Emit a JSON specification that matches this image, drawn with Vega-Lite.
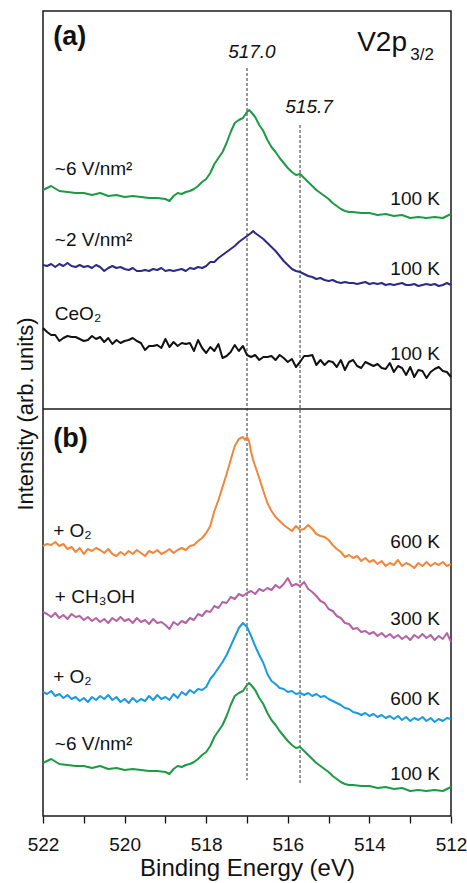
{
"$schema": "https://vega.github.io/schema/vega-lite/v6.json",
"width": 408,
"height": 805,
"autosize": {"type": "none"},
"padding": {"left": 43, "top": 11, "right": 16, "bottom": 67},
"background": "white",
"config": {
  "view": {"stroke": "#1a1a1a", "strokeWidth": 1.5},
  "font": "Liberation Sans",
  "axis": {"labelFont": "Liberation Sans", "titleFont": "Liberation Sans", "titleFontWeight": "normal", "labelColor": "#111", "titleColor": "#111"}
},
"datasets": {
"curves": [
{"s":"a6","e":522.0,"v":626},{"s":"a6","e":521.8,"v":630},{"s":"a6","e":521.6,"v":625},{"s":"a6","e":521.4,"v":624},{"s":"a6","e":521.2,"v":623},{"s":"a6","e":521.0,"v":623},{"s":"a6","e":520.8,"v":621},{"s":"a6","e":520.6,"v":623},{"s":"a6","e":520.4,"v":620},{"s":"a6","e":520.2,"v":621},{"s":"a6","e":520.0,"v":619},{"s":"a6","e":519.8,"v":620},{"s":"a6","e":519.6,"v":619},{"s":"a6","e":519.4,"v":618},{"s":"a6","e":519.2,"v":618},{"s":"a6","e":519.0,"v":617},{"s":"a6","e":518.9,"v":615},{"s":"a6","e":518.8,"v":620},{"s":"a6","e":518.7,"v":623},{"s":"a6","e":518.6,"v":622},{"s":"a6","e":518.5,"v":624},{"s":"a6","e":518.4,"v":625},{"s":"a6","e":518.3,"v":627},{"s":"a6","e":518.2,"v":630},{"s":"a6","e":518.1,"v":634},{"s":"a6","e":518.0,"v":637},{"s":"a6","e":517.9,"v":643},{"s":"a6","e":517.8,"v":652},{"s":"a6","e":517.7,"v":658},{"s":"a6","e":517.6,"v":664},{"s":"a6","e":517.5,"v":673},{"s":"a6","e":517.4,"v":684},{"s":"a6","e":517.3,"v":693},{"s":"a6","e":517.2,"v":696},{"s":"a6","e":517.1,"v":698},{"s":"a6","e":517.0,"v":704},{"s":"a6","e":516.95,"v":706},{"s":"a6","e":516.9,"v":704},{"s":"a6","e":516.8,"v":699},{"s":"a6","e":516.7,"v":691},{"s":"a6","e":516.6,"v":685},{"s":"a6","e":516.5,"v":676},{"s":"a6","e":516.4,"v":669},{"s":"a6","e":516.3,"v":664},{"s":"a6","e":516.2,"v":658},{"s":"a6","e":516.1,"v":653},{"s":"a6","e":516.0,"v":648},{"s":"a6","e":515.9,"v":644},{"s":"a6","e":515.8,"v":641},{"s":"a6","e":515.7,"v":642},{"s":"a6","e":515.6,"v":638},{"s":"a6","e":515.5,"v":634},{"s":"a6","e":515.4,"v":630},{"s":"a6","e":515.3,"v":626},{"s":"a6","e":515.2,"v":623},{"s":"a6","e":515.1,"v":620},{"s":"a6","e":515.0,"v":617},{"s":"a6","e":514.9,"v":613},{"s":"a6","e":514.8,"v":610},{"s":"a6","e":514.7,"v":607},{"s":"a6","e":514.6,"v":605},{"s":"a6","e":514.5,"v":604},{"s":"a6","e":514.4,"v":604},{"s":"a6","e":514.2,"v":603},{"s":"a6","e":514.0,"v":603},{"s":"a6","e":513.8,"v":601},{"s":"a6","e":513.6,"v":602},{"s":"a6","e":513.4,"v":600},{"s":"a6","e":513.2,"v":601},{"s":"a6","e":513.0,"v":598},{"s":"a6","e":512.8,"v":599},{"s":"a6","e":512.6,"v":598},{"s":"a6","e":512.4,"v":599},{"s":"a6","e":512.2,"v":598},{"s":"a6","e":512.0,"v":602},
{"s":"a2","e":522.0,"v":551},{"s":"a2","e":521.9,"v":550},{"s":"a2","e":521.8,"v":552},{"s":"a2","e":521.7,"v":549},{"s":"a2","e":521.6,"v":552},{"s":"a2","e":521.5,"v":550},{"s":"a2","e":521.4,"v":553},{"s":"a2","e":521.3,"v":550},{"s":"a2","e":521.2,"v":549},{"s":"a2","e":521.1,"v":551},{"s":"a2","e":521.0,"v":549},{"s":"a2","e":520.9,"v":550},{"s":"a2","e":520.8,"v":548},{"s":"a2","e":520.7,"v":551},{"s":"a2","e":520.6,"v":549},{"s":"a2","e":520.5,"v":545},{"s":"a2","e":520.4,"v":548},{"s":"a2","e":520.3,"v":550},{"s":"a2","e":520.2,"v":548},{"s":"a2","e":520.1,"v":549},{"s":"a2","e":520.0,"v":547},{"s":"a2","e":519.9,"v":546},{"s":"a2","e":519.8,"v":548},{"s":"a2","e":519.7,"v":545},{"s":"a2","e":519.6,"v":545},{"s":"a2","e":519.5,"v":546},{"s":"a2","e":519.4,"v":545},{"s":"a2","e":519.3,"v":547},{"s":"a2","e":519.2,"v":546},{"s":"a2","e":519.1,"v":548},{"s":"a2","e":519.0,"v":545},{"s":"a2","e":518.9,"v":546},{"s":"a2","e":518.8,"v":545},{"s":"a2","e":518.7,"v":546},{"s":"a2","e":518.6,"v":547},{"s":"a2","e":518.5,"v":545},{"s":"a2","e":518.4,"v":548},{"s":"a2","e":518.3,"v":547},{"s":"a2","e":518.2,"v":549},{"s":"a2","e":518.1,"v":548},{"s":"a2","e":518.0,"v":550},{"s":"a2","e":517.9,"v":554},{"s":"a2","e":517.8,"v":554},{"s":"a2","e":517.7,"v":558},{"s":"a2","e":517.6,"v":561},{"s":"a2","e":517.5,"v":564},{"s":"a2","e":517.4,"v":567},{"s":"a2","e":517.3,"v":570},{"s":"a2","e":517.2,"v":574},{"s":"a2","e":517.1,"v":577},{"s":"a2","e":517.0,"v":580},{"s":"a2","e":516.9,"v":583},{"s":"a2","e":516.85,"v":585},{"s":"a2","e":516.8,"v":583},{"s":"a2","e":516.7,"v":580},{"s":"a2","e":516.6,"v":577},{"s":"a2","e":516.5,"v":573},{"s":"a2","e":516.4,"v":569},{"s":"a2","e":516.3,"v":565},{"s":"a2","e":516.2,"v":560},{"s":"a2","e":516.1,"v":555},{"s":"a2","e":516.0,"v":551},{"s":"a2","e":515.9,"v":547},{"s":"a2","e":515.8,"v":545},{"s":"a2","e":515.7,"v":544},{"s":"a2","e":515.6,"v":542},{"s":"a2","e":515.5,"v":540},{"s":"a2","e":515.4,"v":539},{"s":"a2","e":515.3,"v":537},{"s":"a2","e":515.2,"v":538},{"s":"a2","e":515.1,"v":536},{"s":"a2","e":515.0,"v":535},{"s":"a2","e":514.9,"v":536},{"s":"a2","e":514.8,"v":534},{"s":"a2","e":514.7,"v":533},{"s":"a2","e":514.6,"v":534},{"s":"a2","e":514.5,"v":533},{"s":"a2","e":514.4,"v":533},{"s":"a2","e":514.3,"v":532},{"s":"a2","e":514.2,"v":533},{"s":"a2","e":514.1,"v":534},{"s":"a2","e":514.0,"v":532},{"s":"a2","e":513.9,"v":533},{"s":"a2","e":513.8,"v":532},{"s":"a2","e":513.7,"v":533},{"s":"a2","e":513.6,"v":531},{"s":"a2","e":513.5,"v":532},{"s":"a2","e":513.4,"v":531},{"s":"a2","e":513.3,"v":532},{"s":"a2","e":513.2,"v":533},{"s":"a2","e":513.1,"v":531},{"s":"a2","e":513.0,"v":531},{"s":"a2","e":512.9,"v":532},{"s":"a2","e":512.8,"v":530},{"s":"a2","e":512.7,"v":531},{"s":"a2","e":512.6,"v":532},{"s":"a2","e":512.5,"v":531},{"s":"a2","e":512.4,"v":532},{"s":"a2","e":512.3,"v":530},{"s":"a2","e":512.2,"v":531},{"s":"a2","e":512.1,"v":533},{"s":"a2","e":512.0,"v":531},
{"s":"ac","e":522.0,"v":488},{"s":"ac","e":521.9,"v":484},{"s":"ac","e":521.8,"v":481},{"s":"ac","e":521.7,"v":481},{"s":"ac","e":521.6,"v":475},{"s":"ac","e":521.5,"v":478},{"s":"ac","e":521.4,"v":480},{"s":"ac","e":521.3,"v":479},{"s":"ac","e":521.2,"v":479},{"s":"ac","e":521.1,"v":477},{"s":"ac","e":521.0,"v":475},{"s":"ac","e":520.9,"v":476},{"s":"ac","e":520.8,"v":480},{"s":"ac","e":520.7,"v":477},{"s":"ac","e":520.6,"v":479},{"s":"ac","e":520.5,"v":474},{"s":"ac","e":520.4,"v":478},{"s":"ac","e":520.3,"v":472},{"s":"ac","e":520.2,"v":476},{"s":"ac","e":520.1,"v":473},{"s":"ac","e":520.0,"v":475},{"s":"ac","e":519.9,"v":476},{"s":"ac","e":519.8,"v":478},{"s":"ac","e":519.7,"v":475},{"s":"ac","e":519.6,"v":473},{"s":"ac","e":519.5,"v":466},{"s":"ac","e":519.4,"v":470},{"s":"ac","e":519.3,"v":470},{"s":"ac","e":519.2,"v":471},{"s":"ac","e":519.1,"v":468},{"s":"ac","e":519.0,"v":477},{"s":"ac","e":518.9,"v":469},{"s":"ac","e":518.8,"v":474},{"s":"ac","e":518.7,"v":470},{"s":"ac","e":518.6,"v":473},{"s":"ac","e":518.5,"v":472},{"s":"ac","e":518.4,"v":473},{"s":"ac","e":518.3,"v":465},{"s":"ac","e":518.2,"v":476},{"s":"ac","e":518.1,"v":468},{"s":"ac","e":518.0,"v":463},{"s":"ac","e":517.9,"v":469},{"s":"ac","e":517.8,"v":465},{"s":"ac","e":517.7,"v":472},{"s":"ac","e":517.6,"v":458},{"s":"ac","e":517.5,"v":460},{"s":"ac","e":517.4,"v":464},{"s":"ac","e":517.3,"v":471},{"s":"ac","e":517.2,"v":465},{"s":"ac","e":517.1,"v":470},{"s":"ac","e":517.0,"v":461},{"s":"ac","e":516.9,"v":459},{"s":"ac","e":516.8,"v":461},{"s":"ac","e":516.7,"v":456},{"s":"ac","e":516.6,"v":459},{"s":"ac","e":516.5,"v":459},{"s":"ac","e":516.4,"v":460},{"s":"ac","e":516.3,"v":456},{"s":"ac","e":516.2,"v":461},{"s":"ac","e":516.1,"v":458},{"s":"ac","e":516.0,"v":454},{"s":"ac","e":515.9,"v":457},{"s":"ac","e":515.8,"v":449},{"s":"ac","e":515.7,"v":454},{"s":"ac","e":515.6,"v":460},{"s":"ac","e":515.5,"v":460},{"s":"ac","e":515.4,"v":461},{"s":"ac","e":515.3,"v":451},{"s":"ac","e":515.2,"v":456},{"s":"ac","e":515.1,"v":451},{"s":"ac","e":515.0,"v":455},{"s":"ac","e":514.9,"v":454},{"s":"ac","e":514.8,"v":449},{"s":"ac","e":514.7,"v":456},{"s":"ac","e":514.6,"v":446},{"s":"ac","e":514.5,"v":454},{"s":"ac","e":514.4,"v":456},{"s":"ac","e":514.3,"v":450},{"s":"ac","e":514.2,"v":448},{"s":"ac","e":514.1,"v":454},{"s":"ac","e":514.0,"v":452},{"s":"ac","e":513.9,"v":450},{"s":"ac","e":513.8,"v":452},{"s":"ac","e":513.7,"v":448},{"s":"ac","e":513.6,"v":447},{"s":"ac","e":513.5,"v":453},{"s":"ac","e":513.4,"v":444},{"s":"ac","e":513.3,"v":450},{"s":"ac","e":513.2,"v":448},{"s":"ac","e":513.1,"v":441},{"s":"ac","e":513.0,"v":449},{"s":"ac","e":512.9,"v":439},{"s":"ac","e":512.8,"v":446},{"s":"ac","e":512.7,"v":445},{"s":"ac","e":512.6,"v":438},{"s":"ac","e":512.5,"v":444},{"s":"ac","e":512.4,"v":447},{"s":"ac","e":512.3,"v":449},{"s":"ac","e":512.2,"v":445},{"s":"ac","e":512.1,"v":444},{"s":"ac","e":512.0,"v":439},
{"s":"bo","e":522.0,"v":270},{"s":"bo","e":521.9,"v":272},{"s":"bo","e":521.8,"v":271},{"s":"bo","e":521.7,"v":274},{"s":"bo","e":521.6,"v":270},{"s":"bo","e":521.5,"v":272},{"s":"bo","e":521.4,"v":267},{"s":"bo","e":521.3,"v":269},{"s":"bo","e":521.2,"v":264},{"s":"bo","e":521.1,"v":268},{"s":"bo","e":521.0,"v":262},{"s":"bo","e":520.9,"v":267},{"s":"bo","e":520.8,"v":265},{"s":"bo","e":520.7,"v":268},{"s":"bo","e":520.6,"v":266},{"s":"bo","e":520.5,"v":263},{"s":"bo","e":520.4,"v":267},{"s":"bo","e":520.3,"v":262},{"s":"bo","e":520.2,"v":260},{"s":"bo","e":520.1,"v":264},{"s":"bo","e":520.0,"v":261},{"s":"bo","e":519.9,"v":265},{"s":"bo","e":519.8,"v":262},{"s":"bo","e":519.7,"v":266},{"s":"bo","e":519.6,"v":263},{"s":"bo","e":519.5,"v":260},{"s":"bo","e":519.4,"v":265},{"s":"bo","e":519.3,"v":263},{"s":"bo","e":519.2,"v":266},{"s":"bo","e":519.1,"v":262},{"s":"bo","e":519.0,"v":264},{"s":"bo","e":518.9,"v":267},{"s":"bo","e":518.8,"v":263},{"s":"bo","e":518.7,"v":266},{"s":"bo","e":518.6,"v":268},{"s":"bo","e":518.5,"v":266},{"s":"bo","e":518.4,"v":270},{"s":"bo","e":518.3,"v":271},{"s":"bo","e":518.2,"v":275},{"s":"bo","e":518.1,"v":278},{"s":"bo","e":518.0,"v":283},{"s":"bo","e":517.9,"v":290},{"s":"bo","e":517.8,"v":305},{"s":"bo","e":517.7,"v":316},{"s":"bo","e":517.6,"v":329},{"s":"bo","e":517.5,"v":342},{"s":"bo","e":517.4,"v":356},{"s":"bo","e":517.3,"v":370},{"s":"bo","e":517.2,"v":377},{"s":"bo","e":517.1,"v":379},{"s":"bo","e":517.05,"v":376},{"s":"bo","e":517.0,"v":379},{"s":"bo","e":516.95,"v":375},{"s":"bo","e":516.9,"v":364},{"s":"bo","e":516.85,"v":356},{"s":"bo","e":516.8,"v":350},{"s":"bo","e":516.7,"v":338},{"s":"bo","e":516.6,"v":325},{"s":"bo","e":516.5,"v":313},{"s":"bo","e":516.4,"v":305},{"s":"bo","e":516.3,"v":299},{"s":"bo","e":516.2,"v":295},{"s":"bo","e":516.1,"v":291},{"s":"bo","e":516.0,"v":288},{"s":"bo","e":515.9,"v":285},{"s":"bo","e":515.8,"v":290},{"s":"bo","e":515.7,"v":286},{"s":"bo","e":515.6,"v":287},{"s":"bo","e":515.5,"v":291},{"s":"bo","e":515.4,"v":287},{"s":"bo","e":515.3,"v":282},{"s":"bo","e":515.2,"v":280},{"s":"bo","e":515.1,"v":279},{"s":"bo","e":515.0,"v":276},{"s":"bo","e":514.9,"v":271},{"s":"bo","e":514.8,"v":267},{"s":"bo","e":514.7,"v":264},{"s":"bo","e":514.6,"v":259},{"s":"bo","e":514.5,"v":261},{"s":"bo","e":514.4,"v":258},{"s":"bo","e":514.3,"v":260},{"s":"bo","e":514.2,"v":255},{"s":"bo","e":514.1,"v":258},{"s":"bo","e":514.0,"v":254},{"s":"bo","e":513.9,"v":256},{"s":"bo","e":513.8,"v":252},{"s":"bo","e":513.7,"v":255},{"s":"bo","e":513.6,"v":250},{"s":"bo","e":513.5,"v":253},{"s":"bo","e":513.4,"v":251},{"s":"bo","e":513.3,"v":256},{"s":"bo","e":513.2,"v":250},{"s":"bo","e":513.1,"v":253},{"s":"bo","e":513.0,"v":251},{"s":"bo","e":512.9,"v":248},{"s":"bo","e":512.8,"v":253},{"s":"bo","e":512.7,"v":250},{"s":"bo","e":512.6,"v":254},{"s":"bo","e":512.5,"v":250},{"s":"bo","e":512.4,"v":253},{"s":"bo","e":512.3,"v":251},{"s":"bo","e":512.2,"v":254},{"s":"bo","e":512.1,"v":250},{"s":"bo","e":512.0,"v":252},
{"s":"bm","e":522.0,"v":204},{"s":"bm","e":521.9,"v":202},{"s":"bm","e":521.8,"v":199},{"s":"bm","e":521.7,"v":203},{"s":"bm","e":521.6,"v":198},{"s":"bm","e":521.5,"v":201},{"s":"bm","e":521.4,"v":197},{"s":"bm","e":521.3,"v":202},{"s":"bm","e":521.2,"v":199},{"s":"bm","e":521.1,"v":200},{"s":"bm","e":521.0,"v":196},{"s":"bm","e":520.9,"v":199},{"s":"bm","e":520.8,"v":195},{"s":"bm","e":520.7,"v":198},{"s":"bm","e":520.6,"v":194},{"s":"bm","e":520.5,"v":197},{"s":"bm","e":520.4,"v":193},{"s":"bm","e":520.3,"v":198},{"s":"bm","e":520.2,"v":195},{"s":"bm","e":520.1,"v":199},{"s":"bm","e":520.0,"v":195},{"s":"bm","e":519.9,"v":197},{"s":"bm","e":519.8,"v":193},{"s":"bm","e":519.7,"v":198},{"s":"bm","e":519.6,"v":194},{"s":"bm","e":519.5,"v":196},{"s":"bm","e":519.4,"v":192},{"s":"bm","e":519.3,"v":197},{"s":"bm","e":519.2,"v":193},{"s":"bm","e":519.1,"v":194},{"s":"bm","e":519.0,"v":191},{"s":"bm","e":518.9,"v":187},{"s":"bm","e":518.8,"v":194},{"s":"bm","e":518.7,"v":191},{"s":"bm","e":518.6,"v":195},{"s":"bm","e":518.5,"v":193},{"s":"bm","e":518.4,"v":198},{"s":"bm","e":518.3,"v":196},{"s":"bm","e":518.2,"v":202},{"s":"bm","e":518.1,"v":200},{"s":"bm","e":518.0,"v":205},{"s":"bm","e":517.9,"v":204},{"s":"bm","e":517.8,"v":210},{"s":"bm","e":517.7,"v":208},{"s":"bm","e":517.6,"v":214},{"s":"bm","e":517.5,"v":213},{"s":"bm","e":517.4,"v":219},{"s":"bm","e":517.3,"v":217},{"s":"bm","e":517.2,"v":222},{"s":"bm","e":517.1,"v":220},{"s":"bm","e":517.0,"v":223},{"s":"bm","e":516.9,"v":225},{"s":"bm","e":516.8,"v":222},{"s":"bm","e":516.7,"v":227},{"s":"bm","e":516.6,"v":225},{"s":"bm","e":516.5,"v":228},{"s":"bm","e":516.4,"v":226},{"s":"bm","e":516.3,"v":231},{"s":"bm","e":516.2,"v":228},{"s":"bm","e":516.1,"v":232},{"s":"bm","e":516.0,"v":238},{"s":"bm","e":515.9,"v":230},{"s":"bm","e":515.8,"v":232},{"s":"bm","e":515.7,"v":230},{"s":"bm","e":515.6,"v":234},{"s":"bm","e":515.5,"v":227},{"s":"bm","e":515.4,"v":224},{"s":"bm","e":515.3,"v":220},{"s":"bm","e":515.2,"v":215},{"s":"bm","e":515.1,"v":213},{"s":"bm","e":515.0,"v":207},{"s":"bm","e":514.9,"v":205},{"s":"bm","e":514.8,"v":200},{"s":"bm","e":514.7,"v":198},{"s":"bm","e":514.6,"v":193},{"s":"bm","e":514.5,"v":192},{"s":"bm","e":514.4,"v":187},{"s":"bm","e":514.3,"v":188},{"s":"bm","e":514.2,"v":184},{"s":"bm","e":514.1,"v":185},{"s":"bm","e":514.0,"v":182},{"s":"bm","e":513.9,"v":184},{"s":"bm","e":513.8,"v":180},{"s":"bm","e":513.7,"v":183},{"s":"bm","e":513.6,"v":179},{"s":"bm","e":513.5,"v":182},{"s":"bm","e":513.4,"v":178},{"s":"bm","e":513.3,"v":181},{"s":"bm","e":513.2,"v":177},{"s":"bm","e":513.1,"v":180},{"s":"bm","e":513.0,"v":176},{"s":"bm","e":512.9,"v":181},{"s":"bm","e":512.8,"v":178},{"s":"bm","e":512.7,"v":182},{"s":"bm","e":512.6,"v":178},{"s":"bm","e":512.5,"v":181},{"s":"bm","e":512.4,"v":176},{"s":"bm","e":512.3,"v":180},{"s":"bm","e":512.2,"v":177},{"s":"bm","e":512.1,"v":183},{"s":"bm","e":512.0,"v":174},
{"s":"bb","e":522.0,"v":124},{"s":"bb","e":521.9,"v":122},{"s":"bb","e":521.8,"v":125},{"s":"bb","e":521.7,"v":120},{"s":"bb","e":521.6,"v":122},{"s":"bb","e":521.5,"v":118},{"s":"bb","e":521.4,"v":121},{"s":"bb","e":521.3,"v":117},{"s":"bb","e":521.2,"v":119},{"s":"bb","e":521.1,"v":115},{"s":"bb","e":521.0,"v":118},{"s":"bb","e":520.9,"v":114},{"s":"bb","e":520.8,"v":119},{"s":"bb","e":520.7,"v":116},{"s":"bb","e":520.6,"v":120},{"s":"bb","e":520.5,"v":117},{"s":"bb","e":520.4,"v":121},{"s":"bb","e":520.3,"v":116},{"s":"bb","e":520.2,"v":119},{"s":"bb","e":520.1,"v":114},{"s":"bb","e":520.0,"v":117},{"s":"bb","e":519.9,"v":113},{"s":"bb","e":519.8,"v":118},{"s":"bb","e":519.7,"v":114},{"s":"bb","e":519.6,"v":117},{"s":"bb","e":519.5,"v":115},{"s":"bb","e":519.4,"v":120},{"s":"bb","e":519.3,"v":116},{"s":"bb","e":519.2,"v":121},{"s":"bb","e":519.1,"v":117},{"s":"bb","e":519.0,"v":119},{"s":"bb","e":518.9,"v":116},{"s":"bb","e":518.8,"v":122},{"s":"bb","e":518.7,"v":118},{"s":"bb","e":518.6,"v":124},{"s":"bb","e":518.5,"v":121},{"s":"bb","e":518.4,"v":126},{"s":"bb","e":518.3,"v":123},{"s":"bb","e":518.2,"v":127},{"s":"bb","e":518.1,"v":126},{"s":"bb","e":518.0,"v":129},{"s":"bb","e":517.9,"v":137},{"s":"bb","e":517.8,"v":142},{"s":"bb","e":517.7,"v":148},{"s":"bb","e":517.6,"v":154},{"s":"bb","e":517.5,"v":161},{"s":"bb","e":517.4,"v":170},{"s":"bb","e":517.3,"v":179},{"s":"bb","e":517.2,"v":188},{"s":"bb","e":517.1,"v":193},{"s":"bb","e":517.0,"v":189},{"s":"bb","e":516.9,"v":180},{"s":"bb","e":516.8,"v":170},{"s":"bb","e":516.7,"v":161},{"s":"bb","e":516.6,"v":153},{"s":"bb","e":516.5,"v":142},{"s":"bb","e":516.4,"v":135},{"s":"bb","e":516.3,"v":132},{"s":"bb","e":516.2,"v":128},{"s":"bb","e":516.1,"v":127},{"s":"bb","e":516.0,"v":124},{"s":"bb","e":515.9,"v":125},{"s":"bb","e":515.8,"v":122},{"s":"bb","e":515.7,"v":123},{"s":"bb","e":515.6,"v":121},{"s":"bb","e":515.5,"v":123},{"s":"bb","e":515.4,"v":120},{"s":"bb","e":515.3,"v":122},{"s":"bb","e":515.2,"v":119},{"s":"bb","e":515.1,"v":120},{"s":"bb","e":515.0,"v":117},{"s":"bb","e":514.9,"v":115},{"s":"bb","e":514.8,"v":113},{"s":"bb","e":514.7,"v":111},{"s":"bb","e":514.6,"v":108},{"s":"bb","e":514.5,"v":107},{"s":"bb","e":514.4,"v":104},{"s":"bb","e":514.3,"v":103},{"s":"bb","e":514.2,"v":101},{"s":"bb","e":514.1,"v":103},{"s":"bb","e":514.0,"v":100},{"s":"bb","e":513.9,"v":102},{"s":"bb","e":513.8,"v":99},{"s":"bb","e":513.7,"v":101},{"s":"bb","e":513.6,"v":98},{"s":"bb","e":513.5,"v":100},{"s":"bb","e":513.4,"v":97},{"s":"bb","e":513.3,"v":100},{"s":"bb","e":513.2,"v":96},{"s":"bb","e":513.1,"v":99},{"s":"bb","e":513.0,"v":95},{"s":"bb","e":512.9,"v":98},{"s":"bb","e":512.8,"v":96},{"s":"bb","e":512.7,"v":99},{"s":"bb","e":512.6,"v":95},{"s":"bb","e":512.5,"v":98},{"s":"bb","e":512.4,"v":94},{"s":"bb","e":512.3,"v":97},{"s":"bb","e":512.2,"v":95},{"s":"bb","e":512.1,"v":98},{"s":"bb","e":512.0,"v":97},
{"s":"bg","e":522.0,"v":53},{"s":"bg","e":521.8,"v":57},{"s":"bg","e":521.6,"v":52},{"s":"bg","e":521.4,"v":51},{"s":"bg","e":521.2,"v":50},{"s":"bg","e":521.0,"v":50},{"s":"bg","e":520.8,"v":48},{"s":"bg","e":520.6,"v":50},{"s":"bg","e":520.4,"v":47},{"s":"bg","e":520.2,"v":48},{"s":"bg","e":520.0,"v":46},{"s":"bg","e":519.8,"v":47},{"s":"bg","e":519.6,"v":46},{"s":"bg","e":519.4,"v":45},{"s":"bg","e":519.2,"v":45},{"s":"bg","e":519.0,"v":44},{"s":"bg","e":518.9,"v":42},{"s":"bg","e":518.8,"v":47},{"s":"bg","e":518.7,"v":50},{"s":"bg","e":518.6,"v":49},{"s":"bg","e":518.5,"v":51},{"s":"bg","e":518.4,"v":52},{"s":"bg","e":518.3,"v":54},{"s":"bg","e":518.2,"v":57},{"s":"bg","e":518.1,"v":61},{"s":"bg","e":518.0,"v":64},{"s":"bg","e":517.9,"v":70},{"s":"bg","e":517.8,"v":79},{"s":"bg","e":517.7,"v":85},{"s":"bg","e":517.6,"v":91},{"s":"bg","e":517.5,"v":100},{"s":"bg","e":517.4,"v":111},{"s":"bg","e":517.3,"v":120},{"s":"bg","e":517.2,"v":123},{"s":"bg","e":517.1,"v":125},{"s":"bg","e":517.0,"v":131},{"s":"bg","e":516.95,"v":133},{"s":"bg","e":516.9,"v":131},{"s":"bg","e":516.8,"v":126},{"s":"bg","e":516.7,"v":118},{"s":"bg","e":516.6,"v":112},{"s":"bg","e":516.5,"v":103},{"s":"bg","e":516.4,"v":96},{"s":"bg","e":516.3,"v":91},{"s":"bg","e":516.2,"v":85},{"s":"bg","e":516.1,"v":80},{"s":"bg","e":516.0,"v":75},{"s":"bg","e":515.9,"v":71},{"s":"bg","e":515.8,"v":68},{"s":"bg","e":515.7,"v":69},{"s":"bg","e":515.6,"v":65},{"s":"bg","e":515.5,"v":61},{"s":"bg","e":515.4,"v":57},{"s":"bg","e":515.3,"v":53},{"s":"bg","e":515.2,"v":50},{"s":"bg","e":515.1,"v":47},{"s":"bg","e":515.0,"v":44},{"s":"bg","e":514.9,"v":40},{"s":"bg","e":514.8,"v":37},{"s":"bg","e":514.7,"v":34},{"s":"bg","e":514.6,"v":32},{"s":"bg","e":514.5,"v":31},{"s":"bg","e":514.4,"v":31},{"s":"bg","e":514.2,"v":30},{"s":"bg","e":514.0,"v":30},{"s":"bg","e":513.8,"v":28},{"s":"bg","e":513.6,"v":29},{"s":"bg","e":513.4,"v":27},{"s":"bg","e":513.2,"v":28},{"s":"bg","e":513.0,"v":25},{"s":"bg","e":512.8,"v":26},{"s":"bg","e":512.6,"v":25},{"s":"bg","e":512.4,"v":26},{"s":"bg","e":512.2,"v":25},{"s":"bg","e":512.0,"v":29}
]
},
"encoding": {
  "x": {"field": "e", "type": "quantitative",
        "scale": {"domain": [512, 522], "reverse": true, "nice": false, "zero": false},
        "axis": {"title": "Binding Energy (eV)", "titleFontSize": 24, "titlePadding": 2,
                 "values": [512,512.5,513,513.5,514,514.5,515,515.5,516,516.5,517,517.5,518,518.5,519,519.5,520,520.5,521,521.5,522],
                 "format": "d",
                 "labelExpr": "datum.value % 2 === 0 ? datum.label : ''",
                 "labelFontSize": 19, "labelPadding": 12, "labelFlush": false, "labelOverlap": false,
                 "tickSize": {"condition": {"test": "datum.value % 1 === 0", "value": 7}, "value": 4},
                 "tickColor": "#111", "tickWidth": 1.3, "domain": false, "grid": false}},
  "y": {"field": "v", "type": "quantitative",
        "scale": {"domain": [0, 805], "nice": false, "zero": false},
        "axis": {"title": "Intensity (arb. units)", "titleFontSize": 22, "titlePadding": 6,
                 "labels": false, "ticks": false, "domain": false, "grid": false}}
},
"layer": [
  {
    "data": {"values": [{"e": 522, "e2": 512, "v": 407}]},
    "mark": {"type": "rule", "color": "#1a1a1a", "strokeWidth": 1.5},
    "encoding": {"x2": {"field": "e2"}}
  },
  {
    "data": {"values": [{"e": 517.0, "v": 748, "v2": 36}, {"e": 515.7, "v": 691, "v2": 32}]},
    "mark": {"type": "rule", "color": "#333", "strokeWidth": 1, "strokeDash": [3, 2]},
    "encoding": {"y2": {"field": "v2"}}
  },
  {
    "data": {"name": "curves"},
    "mark": {"type": "line", "interpolate": "linear", "strokeJoin": "round"},
    "encoding": {
      "color": {"field": "s", "type": "nominal", "legend": null,
                "scale": {"domain": ["a6","a2","ac","bo","bm","bb","bg"],
                          "range": ["#1e9a45","#2b2a86","#111111","#f0873a","#b462a6","#1a9ae0","#1e9a45"]}},
      "strokeWidth": {"field": "s", "type": "nominal", "legend": null,
                "scale": {"domain": ["a6","a2","ac","bo","bm","bb","bg"],
                          "range": [2, 2, 1.6, 2.8, 2.8, 2.8, 2.8]}}
    }
  },
  {
    "data": {"values": [
      {"e": 521.71, "v": 641, "t": "~6 V/nm²"},
      {"e": 521.71, "v": 570, "t": "~2 V/nm²"},
      {"e": 521.71, "v": 496, "t": "CeO₂"},
      {"e": 521.75, "v": 279, "t": "+ O₂"},
      {"e": 521.71, "v": 213, "t": "+ CH₃OH"},
      {"e": 521.75, "v": 133, "t": "+ O₂"},
      {"e": 521.71, "v": 66, "t": "~6 V/nm²"}
    ]},
    "mark": {"type": "text", "align": "left", "baseline": "alphabetic", "fontSize": 19, "color": "#111"},
    "encoding": {"text": {"field": "t"}}
  },
  {
    "data": {"values": [
      {"e": 512.27, "v": 611, "t": "100 K"},
      {"e": 512.27, "v": 541, "t": "100 K"},
      {"e": 512.27, "v": 456, "t": "100 K"},
      {"e": 512.27, "v": 268, "t": "600 K"},
      {"e": 512.27, "v": 191, "t": "300 K"},
      {"e": 512.27, "v": 111, "t": "600 K"},
      {"e": 512.27, "v": 36, "t": "100 K"}
    ]},
    "mark": {"type": "text", "align": "right", "baseline": "alphabetic", "fontSize": 19, "color": "#111"},
    "encoding": {"text": {"field": "t"}}
  },
  {
    "data": {"values": [
      {"e": 516.88, "v": 758, "t": "517.0"},
      {"e": 515.48, "v": 703, "t": "515.7"}
    ]},
    "mark": {"type": "text", "align": "center", "baseline": "alphabetic", "fontSize": 19, "fontStyle": "italic", "color": "#111"},
    "encoding": {"text": {"field": "t"}}
  },
  {
    "data": {"values": [
      {"e": 521.75, "v": 771, "t": "(a)"},
      {"e": 521.75, "v": 369, "t": "(b)"}
    ]},
    "mark": {"type": "text", "align": "left", "baseline": "alphabetic", "fontSize": 27, "fontWeight": "bold", "color": "#111"},
    "encoding": {"text": {"field": "t"}}
  },
  {
    "data": {"values": [{"e": 514.30, "v": 765, "t": "V2p"}]},
    "mark": {"type": "text", "align": "left", "baseline": "alphabetic", "fontSize": 28, "color": "#111"},
    "encoding": {"text": {"field": "t"}}
  },
  {
    "data": {"values": [{"e": 513.0, "v": 756, "t": "3/2"}]},
    "mark": {"type": "text", "align": "left", "baseline": "alphabetic", "fontSize": 17, "color": "#111"},
    "encoding": {"text": {"field": "t"}}
  }
]
}
